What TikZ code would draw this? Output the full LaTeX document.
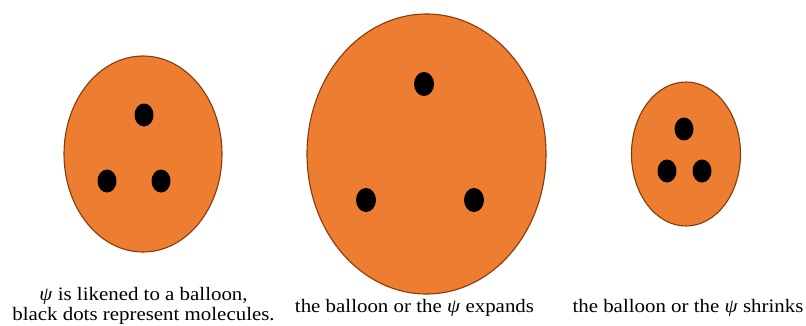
\documentclass[tikz,border=0pt]{standalone}
\usepackage{fontspec}
\setmainfont{Liberation Serif}
\usepackage{graphicx}
\usetikzlibrary{shapes.geometric}
\definecolor{balloonfill}{HTML}{ED7D31}
\definecolor{balloonline}{HTML}{843C0C}
\newcommand{\wide}[1]{\scalebox{1.1}[1]{#1}}
\tikzset{
  balloon/.style={draw=balloonline, line width=1.1pt, fill=balloonfill},
  molecule/.style={ellipse, fill=black, inner sep=0pt, minimum width=19pt, minimum height=23pt},
  caption/.style={anchor=base, inner sep=0pt, font=\fontsize{19}{15}\selectfont}
}
\begin{document}
\begin{tikzpicture}[x=1pt,y=1pt]
    \useasboundingbox (0,0) rectangle (806,325);
    % balloons
    \coordinate (cA) at (143,171);
    \coordinate (cB) at (426.5,171);
    \coordinate (cC) at (686,171);
    \draw[balloon] (cA) ellipse (79 and 98);
    \draw[balloon] (cB) ellipse (119.5 and 140);
    \draw[balloon] (cC) ellipse (54.5 and 72);
    % molecules
    \node[molecule] (a1) at (144,210) {};
    \node[molecule] (a2) at (107,144) {};
    \node[molecule] (a3) at (161,144) {};
    \node[molecule, minimum width=20pt, minimum height=24pt] (b1) at (424,241) {};
    \node[molecule, minimum width=20pt, minimum height=24pt] (b2) at (366,125) {};
    \node[molecule, minimum width=20pt, minimum height=24pt] (b3) at (474,125) {};
    \node[molecule] (c1) at (684,196) {};
    \node[molecule] (c2) at (667,154) {};
    \node[molecule] (c3) at (702,154) {};
    % captions
    \node[caption] (capA1) at (143.5,24.5) {\wide{\textit{ψ} is likened to a balloon,}};
    \node[caption] (capA2) at (143.5,5) {\wide{black dots represent molecules.}};
    \node[caption] (capB) at (414.5,13) {\wide{the balloon or the \textit{ψ} expands}};
    \node[caption] (capC) at (688,13) {\wide{the balloon or the \textit{ψ} shrinks}};
\end{tikzpicture}
\end{document}
